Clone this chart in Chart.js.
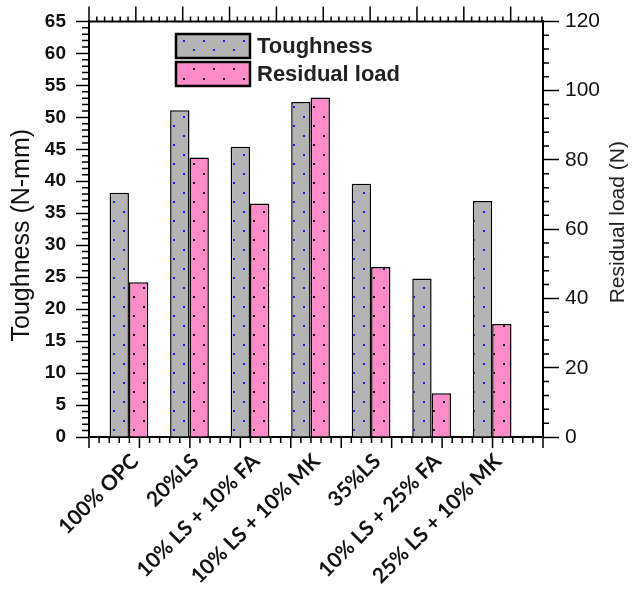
<!DOCTYPE html>
<html>
<head>
<meta charset="utf-8">
<script src="https://cdn.jsdelivr.net/npm/chart.js@4.4.1/dist/chart.umd.min.js"></script>
<style>
  html, body { margin: 0; padding: 0; background: #fff; }
  #wrap { width: 634px; height: 590px; position: relative; }
</style>
</head>
<body>
<div id="wrap"><canvas id="chart"></canvas></div>
<script>
// data
const categories = ['100% OPC', '20%LS', '10% LS + 10% FA', '10% LS + 10% MK', '35%LS', '10% LS + 25% FA', '25% LS + 10% MK'];
const toughness = [38.2, 51.1, 45.4, 52.4, 39.6, 24.8, 36.9];      // N-mm, left axis
const residualLoad = [44.7, 80.7, 67.4, 98.0, 49.1, 12.6, 32.6];   // N, right axis
const seriesNames = ['Toughness', 'Residual load'];

const canvas = document.getElementById('chart');
const ctx = canvas.getContext('2d');

// dotted fill like the original hatch
function dotPattern(bg, dot) {
    const tile = document.createElement('canvas');
    tile.width = 20;
    tile.height = 19;
    const g = tile.getContext('2d');
    g.fillStyle = bg;
    g.fillRect(0, 0, 20, 19);
    g.fillStyle = dot;
    g.fillRect(3, 2, 2, 2);
    g.fillRect(13, 11, 2, 2);
    return ctx.createPattern(tile, 'repeat');
}

const grayFill = dotPattern('#b4b4b4', '#1a1aff');
const pinkFill = dotPattern('#ff8cc8', '#111');

const fills = [grayFill, pinkFill];

// frame, minor ticks, axis titles and the legend box
const decorations = {
    id: 'decorations',
    afterDraw(chart) {
        const { ctx, chartArea: a, scales } = chart;
        const x = scales.x, yl = scales.y, yr = scales.y1;
        ctx.save();
        ctx.strokeStyle = '#000';

        // top border
        ctx.lineWidth = 2;
        ctx.beginPath();
        ctx.moveTo(a.left - 1, a.top);
        ctx.lineTo(a.right + 1, a.top);
        ctx.stroke();

        ctx.lineWidth = 1.5;
        ctx.beginPath();
        // left minor ticks
        for (let v = 1; v < 65; v++) {
            if (v % 5 === 0) continue;
            const py = yl.getPixelForValue(v);
            ctx.moveTo(a.left - 7, py);
            ctx.lineTo(a.left, py);
        }
        // right minor ticks
        for (let v = 4; v < 120; v += 4) {
            if (v % 20 === 0) continue;
            const py = yr.getPixelForValue(v);
            ctx.moveTo(a.right, py);
            ctx.lineTo(a.right + 6, py);
        }
        // bottom ticks
        for (let k = 0; k < 60; k++) {
            const v = x.min + k / 6;
            if (v > x.max + 1e-6) break;
            const px = x.getPixelForValue(v);
            ctx.moveTo(px, a.bottom);
            ctx.lineTo(px, a.bottom + (k % 5 === 0 ? 11 : 6));
        }
        // top ticks
        for (let k = 0; k < 80; k++) {
            const v = x.min + k * 0.129;
            if (v > x.max + 1e-6) break;
            const px = x.getPixelForValue(v);
            ctx.moveTo(px, a.top);
            ctx.lineTo(px, a.top - (k % 6 === 0 ? 15 : 5));
        }
        ctx.stroke();

        // axis titles
        ctx.fillStyle = '#111';
        ctx.textAlign = 'center';
        ctx.textBaseline = 'middle';
        ctx.font = '25px "Liberation Sans"';
        ctx.save();
        ctx.translate(22, (a.top + a.bottom) / 2 + 6);
        ctx.rotate(-Math.PI / 2);
        ctx.fillText('Toughness (N-mm)', 0, 0);
        ctx.restore();

        ctx.font = '21px "Liberation Sans"';
        ctx.fillStyle = '#222';
        ctx.save();
        ctx.translate(618, (a.top + a.bottom) / 2 - 7);
        ctx.rotate(-Math.PI / 2);
        ctx.fillText('Residual load (N)', 0, 0);
        ctx.restore();

        // legend
        ctx.font = 'bold 22px "Liberation Sans"';
        ctx.textAlign = 'left';
        seriesNames.forEach((name, i) => {
            const top = 34 + i * 28;
            ctx.fillStyle = fills[i];
            ctx.fillRect(176, top, 74, 24);
            ctx.lineWidth = 2.5;
            ctx.strokeStyle = '#000';
            ctx.strokeRect(176, top, 74, 24);
            ctx.fillStyle = '#222';
            ctx.fillText(name, 257, top + 13);
        });

        ctx.restore();
    }
};

new Chart(canvas, {
    type: 'bar',
    data: {
        datasets: [
            {
                label: seriesNames[0],
                data: toughness.map((v, i) => ({ x: i, y: v })),
                yAxisID: 'y',
                backgroundColor: grayFill,
                borderColor: '#000',
                borderWidth: 1.5,
                categoryPercentage: 0.64,
                barPercentage: 1
            },
            {
                label: seriesNames[1],
                data: residualLoad.map((v, i) => ({ x: i, y: v })),
                yAxisID: 'y1',
                backgroundColor: pinkFill,
                borderColor: '#000',
                borderWidth: 1.5,
                categoryPercentage: 0.64,
                barPercentage: 1
            }
        ]
    },
    options: {
        responsive: true,
        maintainAspectRatio: false,
        animation: false,
        layout: { padding: { top: 21, left: 0, right: 0, bottom: 0 } },
        plugins: {
            legend: { display: false },
            tooltip: { enabled: false }
        },
        scales: {
            x: {
                type: 'linear',
                offset: false,
                bounds: 'ticks',
                min: -0.66,
                max: 6.84,
                afterBuildTicks: s => { s.ticks = categories.map((_, i) => ({ value: i })); },
                afterFit: s => { s.height = 153; },
                grid: { display: false, drawTicks: false },
                border: { display: true, color: '#000', width: 2 },
                ticks: {
                    autoSkip: false,
                    minRotation: 45,
                    maxRotation: 45,
                    padding: 12,
                    labelOffset: 6,
                    color: '#111',
                    font: { family: 'Lato', weight: 'bold', size: 21 },
                    callback: v => categories[v]
                }
            },
            y: {
                position: 'left',
                min: 0,
                max: 65,
                afterFit: s => { s.width = 89; },
                grid: { drawOnChartArea: false, tickLength: 13, tickColor: '#000', tickWidth: 1.5 },
                border: { color: '#000', width: 2 },
                ticks: {
                    stepSize: 5,
                    padding: 10,
                    color: '#111',
                    font: { family: 'Liberation Sans', weight: 'bold', size: 19 }
                }
            },
            y1: {
                position: 'right',
                min: 0,
                max: 120,
                afterFit: s => { s.width = 91; },
                grid: { drawOnChartArea: false, tickLength: 16, tickColor: '#000', tickWidth: 1.5 },
                border: { color: '#000', width: 2 },
                ticks: {
                    stepSize: 20,
                    padding: 6,
                    color: '#111',
                    font: { family: 'Liberation Sans', size: 21 }
                }
            }
        }
    },
    plugins: [decorations]
});
</script>
</body>
</html>
